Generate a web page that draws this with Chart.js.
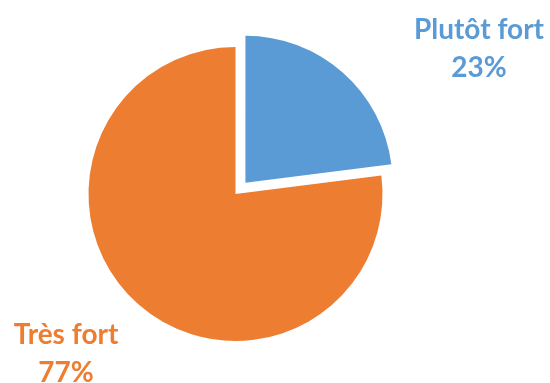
<!DOCTYPE html>
<html>
<head>
<meta charset="utf-8">
<script src="https://cdn.jsdelivr.net/npm/chart.js@4/dist/chart.umd.min.js"></script>
<style>
  html, body { margin: 0; padding: 0; background: #fff; }
  #wrap { width: 550px; height: 383px; }
</style>
</head>
<body>
<div id="wrap"><canvas id="chart"></canvas></div>
<script>
const labels = ['Plutôt fort', 'Très fort'];
const values = [23, 77];
const colors = ['#5B9BD5', '#ED7D31'];

// where each label block is centred (canvas px)
const labelSpots = [
  { x: 479, y: 30 },
  { x: 66, y: 335 },
];

const sliceLabels = {
  id: 'sliceLabels',
  afterDraw(chart) {
    const ctx = chart.ctx;
    const total = values.reduce((a, b) => a + b, 0);
    ctx.save();
    ctx.font = 'bold 28px Lato';
    ctx.textAlign = 'center';
    ctx.textBaseline = 'middle';
    labels.forEach((name, i) => {
      const pct = Math.round((values[i] / total) * 100) + '%';
      const p = labelSpots[i];
      ctx.fillStyle = colors[i];
      ctx.fillText(name, p.x, p.y);
      ctx.fillText(pct, p.x, p.y + 38);
    });
    ctx.restore();
  },
};

new Chart(document.getElementById('chart'), {
  type: 'pie',
  data: {
    labels,
    datasets: [
      {
        data: values,
        backgroundColor: colors,
        borderWidth: 0,
        // arc offset is scaled down by 4 when drawn, so this pulls the slice ~15px out
        offset: [60, 0],
      },
    ],
  },
  options: {
    responsive: true,
    maintainAspectRatio: false,
    animation: false,
    radius: 147,
    layout: { padding: { left: 0, right: 79, top: 5, bottom: 0 } },
    plugins: {
      legend: { display: false },
      tooltip: { enabled: false },
    },
  },
  plugins: [sliceLabels],
});
</script>
</body>
</html>
